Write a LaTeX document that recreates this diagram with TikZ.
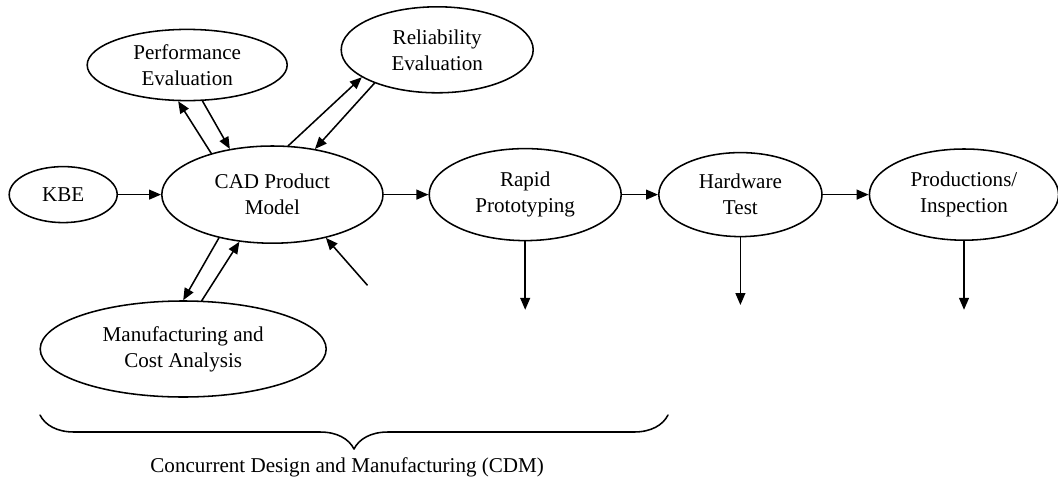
\documentclass[tikz,border=0pt]{standalone}
\usepackage{fontspec}
\setmainfont{Liberation Serif}
\usetikzlibrary{shapes.geometric,arrows.meta,decorations.pathreplacing}

\begin{document}
\begin{tikzpicture}[font=\fontsize{15}{18.5}\selectfont, line join=round, line cap=round, >={Triangle[length=8.5pt,width=7pt]},
	blob/.style={ellipse, draw, line width=1.1pt, inner sep=0pt, align=center},
	flow/.style={->, line width=1.1pt}]
	\useasboundingbox (0,0) rectangle (26.45,12.225);
	% ellipses
	\node[blob, minimum width=5cm, minimum height=1.78cm] (perf) at (4.68,10.6) {Performance\\Evaluation};
	\node[blob, minimum width=4.8cm, minimum height=2.15cm] (rel) at (10.93,10.98) {Reliability\\Evaluation};
	\node[blob, minimum width=2.7cm, minimum height=1.4cm] (kbe) at (1.58,7.36) {KBE};
	\node[blob, minimum width=5.53cm, minimum height=2.43cm] (cad) at (6.81,7.36) {CAD Product\\Model};
	\node[blob, minimum width=4.8cm, minimum height=2.3cm] (rapid) at (13.13,7.36) {Rapid\\Prototyping};
	\node[blob, minimum width=4.08cm, minimum height=2.1cm] (hw) at (18.51,7.36) {Hardware\\Test};
	\node[blob, minimum width=4.73cm, minimum height=2.28cm] (prod) at (24.1,7.36) {Productions/\\Inspection};
	\node[blob, minimum width=7.15cm, minimum height=2.4cm] (manu) at (4.58,3.5) {Manufacturing and\\Cost Analysis};
	% main line
	\draw[flow] (kbe) -- (cad);
	\draw[flow] (cad) -- (rapid);
	\draw[flow] (rapid) -- (hw);
	\draw[flow] (hw) -- (prod);
	% loops round the CAD model
	\draw[flow] (cad.146) -- (perf.256);
	\draw[flow] (perf.293) -- (cad.133);
	\draw[flow] (cad.72) -- (rel.200);
	\draw[flow] (rel.208) -- (cad.47);
	\draw[flow] (cad.219) -- (manu.90);
	\draw[flow] (manu.69) -- (cad.235);
	\coordinate (feed) at (9.18,5.1);
	\draw[flow] (feed) -- (cad.321);
	% outputs
	\coordinate (rapidout) at (13.13,4.48);
	\coordinate (hwout) at (18.51,4.6);
	\coordinate (prodout) at (24.1,4.48);
	\draw[flow] (rapid.south) -- (rapidout);
	\draw[flow] (hw.south) -- (hwout);
	\draw[flow] (prod.south) -- (prodout);
	% brace
	\coordinate (bl) at (1,1.85);
	\coordinate (br) at (16.7,1.85);
	\draw[line width=1.1pt, decorate, decoration={brace, mirror, amplitude=0.85cm}] (bl) -- (br);
	\node (cdm) at (8.68,0.53) {Concurrent Design and Manufacturing (CDM)};
\end{tikzpicture}
\end{document}
